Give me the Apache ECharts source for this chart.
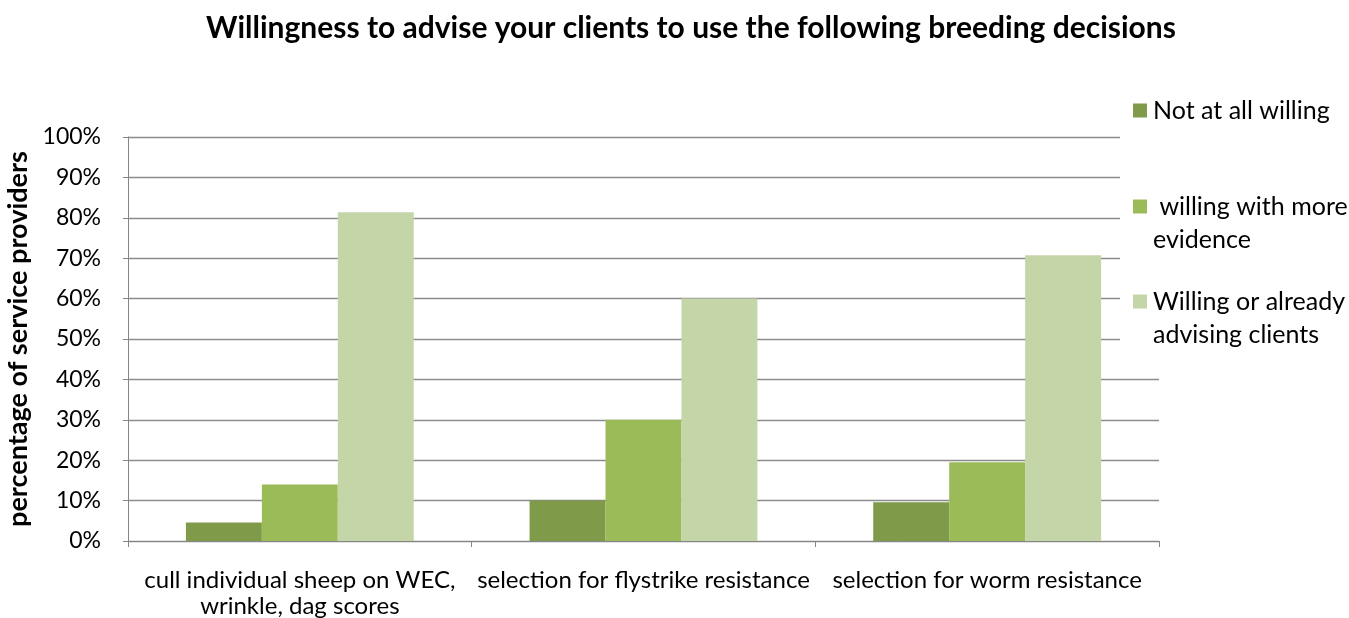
<!DOCTYPE html>
<html>
<head>
<meta charset="utf-8">
<script src="https://cdn.jsdelivr.net/npm/echarts@6/dist/echarts.min.js"></script>
<style>
  html, body { margin: 0; padding: 0; background: #fff; }
  #chart { width: 1349px; height: 618px; }
</style>
</head>
<body>
<div id="chart"></div>
<script>
// data
const categories = [
  'cull individual sheep on WEC,\nwrinkle, dag scores',
  'selection for flystrike resistance',
  'selection for worm resistance'
];
const seriesNames = ['Not at all willing', ' willing with more evidence', 'Willing or already advising clients'];
const notWilling = [4.6, 10.0, 9.6];
const willingMoreEvidence = [14.0, 30.0, 19.5];
const willingAlready = [81.4, 60.0, 70.7];
const yTicks = [0, 10, 20, 30, 40, 50, 60, 70, 80, 90, 100];

const colors = ['#7F9A48', '#9BBB59', '#C4D5A8'];
const font = 'Lato';

// legend text split in lines like the original
const legendLines = [
  ['Not at all willing'],
  [' willing with more', 'evidence'],
  ['Willing or already', 'advising clients']
];

function legendFormatter(idx) {
  return function () {
    const lines = legendLines[idx];
    let s = '{sq|}{gap|}{t|' + lines[0] + '}';
    for (let i = 1; i < lines.length; i++) {
      s += '\n{ind|}{t|' + lines[i] + '}';
    }
    return s;
  };
}

function legendRich(idx) {
  return {
    sq: { width: 14, height: 14, backgroundColor: colors[idx] },
    gap: { width: 6 },
    ind: { width: 20 },
    t: { fontSize: 25, fontFamily: font, color: '#000', lineHeight: 33 }
  };
}

const legendTops = [98, 194, 289];

const myChart = echarts.init(document.getElementById('chart'));
myChart.setOption({
  animation: false,
  textStyle: { fontFamily: font, color: '#000' },
  title: {
    text: 'Willingness to advise your clients to use the following breeding decisions',
    left: 686,
    textAlign: 'center',
    top: 8,
    textStyle: { fontSize: 30, fontWeight: 'bold', fontFamily: font, color: '#000' }
  },
  grid: {
    left: 128,
    right: 190,
    top: 137,
    bottom: 77,
    outerBoundsMode: 'none'
  },
  legend: legendTops.map(function (top, i) {
    const lg = {
      data: [seriesNames[i]],
      left: i === 0 ? 1120 : 1133,
      top: i === 0 ? 90 : top,
      icon: 'none',
      itemWidth: 0,
      itemHeight: 14,
      padding: i === 0 ? [8, 40, 233, 13] : 0,
      z: i === 0 ? 5 : 6,
      selectedMode: false,
      formatter: legendFormatter(i),
      textStyle: { rich: legendRich(i), padding: [0, 0, 0, -5] }
    };
    if (i === 0) lg.backgroundColor = '#fff';
    return lg;
  }),
  xAxis: {
    type: 'category',
    data: categories,
    axisLine: { lineStyle: { color: '#868686', width: 1 } },
    axisTick: { show: true, length: 6, lineStyle: { color: '#868686' } },
    axisLabel: {
      interval: 0,
      fontSize: 24,
      lineHeight: 26,
      margin: 26,
      color: '#000',
      fontFamily: font
    }
  },
  yAxis: {
    type: 'value',
    min: 0,
    max: 100,
    interval: 10,
    name: 'percentage of service providers',
    nameLocation: 'middle',
    nameGap: 93,
    nameTextStyle: { fontSize: 27, fontWeight: 'bold', fontFamily: font, color: '#000' },
    axisLine: { show: true, lineStyle: { color: '#868686', width: 1 } },
    axisTick: { show: true, length: 5, lineStyle: { color: '#868686' } },
    axisLabel: {
      margin: 27,
      fontSize: 23,
      color: '#000',
      fontFamily: font,
      formatter: function (v) { return yTicks.indexOf(v) >= 0 ? v + '%' : ''; }
    },
    splitLine: { show: true, lineStyle: { color: '#8c8c8c', width: 1.3 } }
  },
  series: [
    { name: seriesNames[0], type: 'bar', data: notWilling, itemStyle: { color: colors[0] }, barGap: '0%', barCategoryGap: '33.7%' },
    { name: seriesNames[1], type: 'bar', data: willingMoreEvidence, itemStyle: { color: colors[1] }, barGap: '0%', barCategoryGap: '33.7%' },
    { name: seriesNames[2], type: 'bar', data: willingAlready, itemStyle: { color: colors[2] }, barGap: '0%', barCategoryGap: '33.7%' }
  ]
});
</script>
</body>
</html>
